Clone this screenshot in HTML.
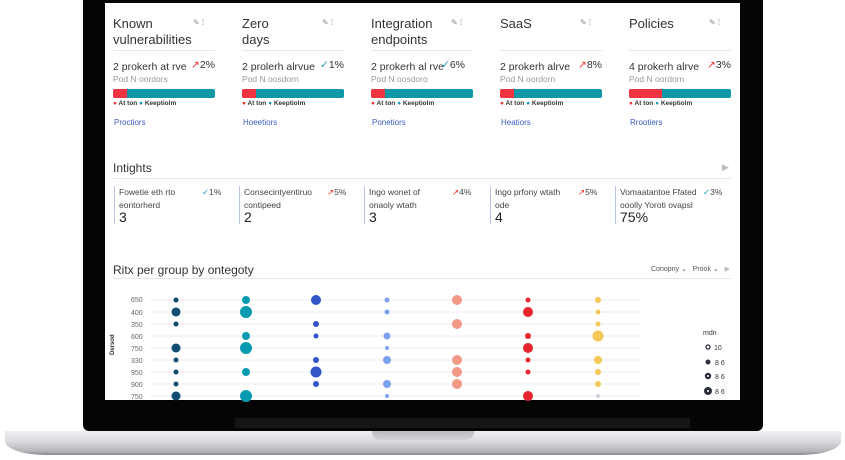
<!DOCTYPE html>
<html><head><meta charset="utf-8"><style>
*{margin:0;padding:0;box-sizing:border-box}
body{width:845px;height:460px;background:#fff;position:relative;overflow:hidden;font-family:"Liberation Sans",sans-serif;color:#2a2f3a}
.a{position:absolute;white-space:nowrap}
.bez{left:83px;top:0;width:680px;height:431px;background:#050505;border-radius:0 0 6px 6px}
.scr{left:105px;top:3px;width:635px;height:397px;background:#fff}
.base{left:5px;top:431px;width:836px;height:24px;background:linear-gradient(#eeeff1,#dcdde0 40%,#b3b5b9 85%,#86888c);border-radius:0 0 40px 40px/0 0 14px 14px}
.notch{left:372px;top:431px;width:102px;height:9px;background:linear-gradient(#b9babd,#d3d4d6);border-radius:0 0 8px 8px}
.t{font-size:13px;color:#333;line-height:16px}
.s{font-size:10.5px;color:#333}
.sub{font-size:8.5px;color:#999}
.lg{font-size:6.5px;color:#333;font-weight:bold}
.lk{font-size:8px;color:#3b5bc0}
.ic{font-size:8px;color:#888}
.ins{font-size:8.5px;color:#444;line-height:13px}
.v{font-size:14px;color:#222}
.yl{font-size:7px;color:#666}
</style></head><body>
<div class="a bez"></div>
<div class="a" style="left:235px;top:418px;width:455px;height:10px;background:#151515"></div>
<div class="a scr"></div>
<div class="a base"></div>
<div class="a notch"></div>

<div class="a t" style="left:113px;top:16px">Known<br>vulnerabilities</div>
<div class="a t" style="left:242px;top:16px">Zero<br>days</div>
<div class="a t" style="left:371px;top:16px">Integration<br>endpoints</div>
<div class="a t" style="left:500px;top:16px">SaaS</div>
<div class="a t" style="left:629px;top:16px">Policies</div>

<div class="a ic" style="left:193px;top:18px">✎ ⁞</div>
<div class="a ic" style="left:322px;top:18px">✎ ⁞</div>
<div class="a ic" style="left:451px;top:18px">✎ ⁞</div>
<div class="a ic" style="left:580px;top:18px">✎ ⁞</div>
<div class="a ic" style="left:709px;top:18px">✎ ⁞</div>

<div class="a" style="left:113px;top:50px;width:102px;height:1px;background:#e6e8ec"></div>
<div class="a" style="left:242px;top:50px;width:102px;height:1px;background:#e6e8ec"></div>
<div class="a" style="left:371px;top:50px;width:102px;height:1px;background:#e6e8ec"></div>
<div class="a" style="left:500px;top:50px;width:102px;height:1px;background:#e6e8ec"></div>
<div class="a" style="left:629px;top:50px;width:102px;height:1px;background:#e6e8ec"></div>

<div class="a s" style="left:113px;top:61px">2 prokerh at rve</div><div class="a s" style="left:191px;top:59px"><span style="color:#e33">↗</span>2%</div>
<div class="a s" style="left:242px;top:61px">2 prolerh alrvue</div><div class="a s" style="left:320px;top:59px"><span style="color:#1a9ab0">✓</span>1%</div>
<div class="a s" style="left:371px;top:61px">2 prokerh al rve</div><div class="a s" style="left:441px;top:59px"><span style="color:#1a9ab0">✓</span>6%</div>
<div class="a s" style="left:500px;top:61px">2 prokerh alrve</div><div class="a s" style="left:578px;top:59px"><span style="color:#e33">↗</span>8%</div>
<div class="a s" style="left:629px;top:61px">4 prokerh alrve</div><div class="a s" style="left:707px;top:59px"><span style="color:#e33">↗</span>3%</div>

<div class="a sub" style="left:113px;top:74px">Pod N oordors</div>
<div class="a sub" style="left:242px;top:74px">Pod N oosdorn</div>
<div class="a sub" style="left:371px;top:74px">Pod N oosdoro</div>
<div class="a sub" style="left:500px;top:74px">Pod N oordorn</div>
<div class="a sub" style="left:629px;top:74px">Pod N oordorn</div>

<div class="a" style="left:113px;top:89px;width:102px;height:9px;background:#0f98a8;border-radius:2px;overflow:hidden"><div style="width:14px;height:9px;background:#ef3340"></div></div>
<div class="a" style="left:242px;top:89px;width:102px;height:9px;background:#0f98a8;border-radius:2px;overflow:hidden"><div style="width:14px;height:9px;background:#ef3340"></div></div>
<div class="a" style="left:371px;top:89px;width:102px;height:9px;background:#0f98a8;border-radius:2px;overflow:hidden"><div style="width:14px;height:9px;background:#ef3340"></div></div>
<div class="a" style="left:500px;top:89px;width:102px;height:9px;background:#0f98a8;border-radius:2px;overflow:hidden"><div style="width:14px;height:9px;background:#ef3340"></div></div>
<div class="a" style="left:629px;top:89px;width:102px;height:9px;background:#0f98a8;border-radius:2px;overflow:hidden"><div style="width:33px;height:9px;background:#ef3340"></div></div>

<div class="a lg" style="left:113px;top:100px"><span style="color:#e33">●</span> At ton <span style="color:#1a9ab0">●</span> Keeptiolm</div>
<div class="a lg" style="left:242px;top:100px"><span style="color:#e33">●</span> At ton <span style="color:#1a9ab0">●</span> Keeptiolm</div>
<div class="a lg" style="left:371px;top:100px"><span style="color:#e33">●</span> At ton <span style="color:#1a9ab0">●</span> Keeptiolm</div>
<div class="a lg" style="left:500px;top:100px"><span style="color:#e33">●</span> At ton <span style="color:#1a9ab0">●</span> Keeptiolm</div>
<div class="a lg" style="left:629px;top:100px"><span style="color:#e33">●</span> At ton <span style="color:#1a9ab0">●</span> Keeptiolm</div>

<div class="a lk" style="left:114px;top:118px">Proctiors</div>
<div class="a lk" style="left:243px;top:118px">Hoeetiors</div>
<div class="a lk" style="left:372px;top:118px">Ponetiors</div>
<div class="a lk" style="left:501px;top:118px">Heatiors</div>
<div class="a lk" style="left:630px;top:118px">Rrootiers</div>

<div class="a t" style="left:113px;top:160px;font-size:12px">Intights</div>
<div class="a" style="left:722px;top:162px;font-size:9px;color:#bbb">▶</div>
<div class="a" style="left:113px;top:178px;width:618px;height:1px;background:#e6e8ec"></div>

<div class="a" style="left:114px;top:186px;width:1px;height:38px;background:#b8c4e6"></div>
<div class="a" style="left:239px;top:186px;width:1px;height:38px;background:#b8c4e6"></div>
<div class="a" style="left:364px;top:186px;width:1px;height:38px;background:#b8c4e6"></div>
<div class="a" style="left:490px;top:186px;width:1px;height:38px;background:#b8c4e6"></div>
<div class="a" style="left:615px;top:186px;width:1px;height:38px;background:#b8c4e6"></div>

<div class="a ins" style="left:119px;top:186px">Fowetie eth rto<br>eontorherd</div><div class="a ins" style="left:202px;top:186px"><span style="color:#1a9ab0">✓</span>1%</div>
<div class="a ins" style="left:244px;top:186px">Consecintyentiruo<br>contipeed</div><div class="a ins" style="left:327px;top:186px"><span style="color:#e33">↗</span>5%</div>
<div class="a ins" style="left:369px;top:186px">Ingo wonet of<br>onaoly wtath</div><div class="a ins" style="left:452px;top:186px"><span style="color:#e33">↗</span>4%</div>
<div class="a ins" style="left:495px;top:186px">Ingo prfony wtath<br>ode</div><div class="a ins" style="left:578px;top:186px"><span style="color:#e33">↗</span>5%</div>
<div class="a ins" style="left:620px;top:186px">Vomaatantoe Ffated<br>ooolly Yoroti ovapsl</div><div class="a ins" style="left:703px;top:186px"><span style="color:#1a9ab0">✓</span>3%</div>

<div class="a v" style="left:119px;top:209px">3</div>
<div class="a v" style="left:244px;top:209px">2</div>
<div class="a v" style="left:369px;top:209px">3</div>
<div class="a v" style="left:495px;top:209px">4</div>
<div class="a v" style="left:620px;top:209px">75%</div>

<div class="a t" style="left:113px;top:262px;font-size:12px">Ritx per group by ontegoty</div>
<div class="a" style="left:651px;top:265px;font-size:7px;color:#555">Conopny ⌄ &nbsp;&nbsp;Prook ⌄ &nbsp;&nbsp;<span style="color:#bbb">▶</span></div>
<div class="a" style="left:113px;top:278px;width:618px;height:1px;background:#e2e6ee"></div>
<div class="a" style="left:110px;top:355px;font-size:6px;font-weight:bold;transform:rotate(-90deg);transform-origin:left top;color:#333">Dersod</div>

<svg class="a" style="left:0;top:0" width="845" height="460">
<g font-family="Liberation Sans" font-size="7" fill="#666">
<text x="131" y="302">650</text><text x="131" y="315">400</text><text x="131" y="327">350</text><text x="131" y="339">600</text><text x="131" y="351">750</text><text x="131" y="363">330</text><text x="131" y="375">950</text><text x="131" y="387">900</text><text x="131" y="399">750</text>
</g>
<g stroke="#eceef2" stroke-width="1">
<line x1="150" x2="640" y1="300" y2="300"/><line x1="150" x2="640" y1="312" y2="312"/><line x1="150" x2="640" y1="324" y2="324"/><line x1="150" x2="640" y1="336" y2="336"/><line x1="150" x2="640" y1="348" y2="348"/><line x1="150" x2="640" y1="360" y2="360"/><line x1="150" x2="640" y1="372" y2="372"/><line x1="150" x2="640" y1="384" y2="384"/><line x1="150" x2="640" y1="396" y2="396"/>
</g>
<g fill="#0d4f6e"><circle cx="176" cy="300" r="2.5"/><circle cx="176" cy="312" r="4.5"/><circle cx="176" cy="324" r="2.5"/><circle cx="176" cy="348" r="4.5"/><circle cx="176" cy="360" r="2.5"/><circle cx="176" cy="372" r="2.5"/><circle cx="176" cy="384" r="2.5"/><circle cx="176" cy="396" r="4.5"/></g>
<g fill="#0a9bb0"><circle cx="246" cy="300" r="4"/><circle cx="246" cy="312" r="6"/><circle cx="246" cy="336" r="4"/><circle cx="246" cy="348" r="6"/><circle cx="246" cy="372" r="4"/><circle cx="246" cy="396" r="6"/></g>
<g fill="#2f55c8"><circle cx="316" cy="300" r="5"/><circle cx="316" cy="324" r="3"/><circle cx="316" cy="336" r="2.5"/><circle cx="316" cy="360" r="3"/><circle cx="316" cy="372" r="5.5"/><circle cx="316" cy="384" r="3"/></g>
<g fill="#7da1ee"><circle cx="387" cy="300" r="2.5"/><circle cx="387" cy="312" r="2.5"/><circle cx="387" cy="336" r="3.5"/><circle cx="387" cy="348" r="2"/><circle cx="387" cy="360" r="4"/><circle cx="387" cy="384" r="4"/><circle cx="387" cy="396" r="2"/></g>
<g fill="#f39a86"><circle cx="457" cy="300" r="5"/><circle cx="457" cy="324" r="5"/><circle cx="457" cy="360" r="5"/><circle cx="457" cy="372" r="5"/><circle cx="457" cy="384" r="5"/></g>
<g fill="#e8262f"><circle cx="528" cy="300" r="2.5"/><circle cx="528" cy="312" r="5"/><circle cx="528" cy="336" r="3"/><circle cx="528" cy="348" r="5"/><circle cx="528" cy="360" r="2.5"/><circle cx="528" cy="372" r="2.5"/><circle cx="528" cy="396" r="5"/></g>
<g fill="#f5c658"><circle cx="598" cy="300" r="3"/><circle cx="598" cy="312" r="2.5"/><circle cx="598" cy="324" r="2.5"/><circle cx="598" cy="336" r="5.5"/><circle cx="598" cy="360" r="4"/><circle cx="598" cy="372" r="3"/><circle cx="598" cy="384" r="3"/><circle cx="598" cy="396" r="2" fill="#cfd3dc"/></g>
<g font-family="Liberation Sans" font-size="7" fill="#333">
<text x="703" y="335">mdn</text>
<circle cx="708" cy="347" r="2" fill="none" stroke="#2a2f3a" stroke-width="1.3"/><text x="714" y="350">10</text>
<circle cx="708" cy="362" r="2.5" fill="#2a2f3a"/><text x="715" y="365">8 6</text>
<circle cx="708" cy="376" r="3.2" fill="#2a2f3a"/><circle cx="708" cy="376" r="1" fill="#fff"/><text x="715" y="379">8 6</text>
<circle cx="708" cy="391" r="4" fill="#2a2f3a"/><circle cx="708" cy="391" r="1" fill="#fff"/><text x="715" y="394">8 6</text>
</g>
</svg>
</body></html>
